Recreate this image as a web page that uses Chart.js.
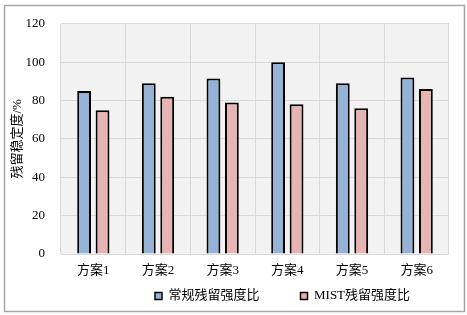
<!DOCTYPE html>
<html>
<head>
<meta charset="utf-8">
<script src="https://cdn.jsdelivr.net/npm/chart.js@4/dist/chart.umd.min.js"></script>
<style>
  html, body { margin: 0; padding: 0; background: #fff; }
  #wrap { width: 467px; height: 315px; position: relative; }
</style>
</head>
<body>
<div id="wrap"><canvas id="rdChart" width="467" height="315"></canvas></div>
<script>
const categories = ['方案1', '方案2', '方案3', '方案4', '方案5', '方案6'];
const normalValues = [85, 89, 91.5, 100, 89, 92];
const mistValues = [75, 82, 79, 78, 76, 86];
const seriesNames = ['常规残留强度比', 'MIST残留强度比'];
const yTicks = [0, 20, 40, 60, 80, 100, 120];

const serifFont = "'Liberation Serif', 'Noto Sans CJK SC', serif";
const legendGap = 41;

// plot background, outer frame and legend placement
const framePlugin = {
  id: 'frame',
  afterLayout(chart) {
    const lg = chart.legend;
    if (!lg || !lg.lineWidths) return;
    const startX = (lg.left + legendGap + lg.right - lg.lineWidths[0]) / 2;
    const dx = 155 - startX;
    lg.left += dx;
    lg.right += dx;
    const dy = (296 - legendGap - 6.5) - lg.top;
    lg.top += dy;
    lg.bottom += dy;
  },
  beforeDraw(chart) {
    const { ctx, chartArea } = chart;
    ctx.save();
    ctx.fillStyle = '#f2f2f2';
    ctx.fillRect(chartArea.left, chartArea.top, chartArea.right - chartArea.left, chartArea.bottom - chartArea.top);
    ctx.restore();
  },
  afterDraw(chart) {
    const ctx = chart.ctx;
    ctx.save();
    ctx.strokeStyle = '#a6a6a6';
    ctx.lineWidth = 1.5;
    ctx.strokeRect(4.5, 5.5, 460, 306);
    ctx.restore();
  }
};

const ctx = document.getElementById('rdChart').getContext('2d');
new Chart(ctx, {
  type: 'bar',
  data: {
    labels: categories,
    datasets: [{
      label: seriesNames[0],
      data: normalValues,
      backgroundColor: '#95b3d7',
      borderColor: '#000',
      borderWidth: 2,
    }, {
      label: seriesNames[1],
      data: mistValues,
      backgroundColor: '#e6b4b2',
      borderColor: '#000',
      borderWidth: 2,
    }],
  },
  options: {
    responsive: false,
    animation: false,
    categoryPercentage: 0.57,
    barPercentage: 0.75,
    layout: { padding: { left: 4, right: 18, top: 23, bottom: -29 } },
    plugins: {
      legend: {
        display: true,
        position: 'bottom',
        labels: {
          boxWidth: 7,
          boxHeight: 7,
          padding: legendGap,
          color: '#000',
          font: { size: 13, family: serifFont },
          generateLabels(chart) {
            return chart.data.datasets.map((ds, i) => ({
              text: ds.label,
              fillStyle: ds.backgroundColor,
              strokeStyle: '#000',
              lineWidth: 1.5,
              datasetIndex: i,
            }));
          },
        },
      },
      tooltip: { enabled: false },
    },
    scales: {
      x: {
        grid: { color: '#d9d9d9', offset: true, drawTicks: false },
        border: { display: false },
        ticks: { color: '#000', padding: 9, font: { size: 13, family: serifFont } },
        afterFit(axis) { axis.height = 26; },
      },
      y: {
        min: 0,
        max: 120,
        afterBuildTicks(axis) {
          axis.ticks = yTicks.map((v) => ({ value: v }));
        },
        afterFit(axis) { axis.width = 57; },
        grid: { color: '#d9d9d9', drawTicks: false },
        border: { display: false },
        title: {
          display: true,
          text: '残留稳定度/%',
          color: '#000',
          padding: { top: 6, bottom: 0 },
          font: { size: 13, family: serifFont },
        },
        ticks: { color: '#000', padding: 16, font: { size: 13, family: serifFont } },
      },
    },
  },
  plugins: [framePlugin],
});
</script>
</body>
</html>
